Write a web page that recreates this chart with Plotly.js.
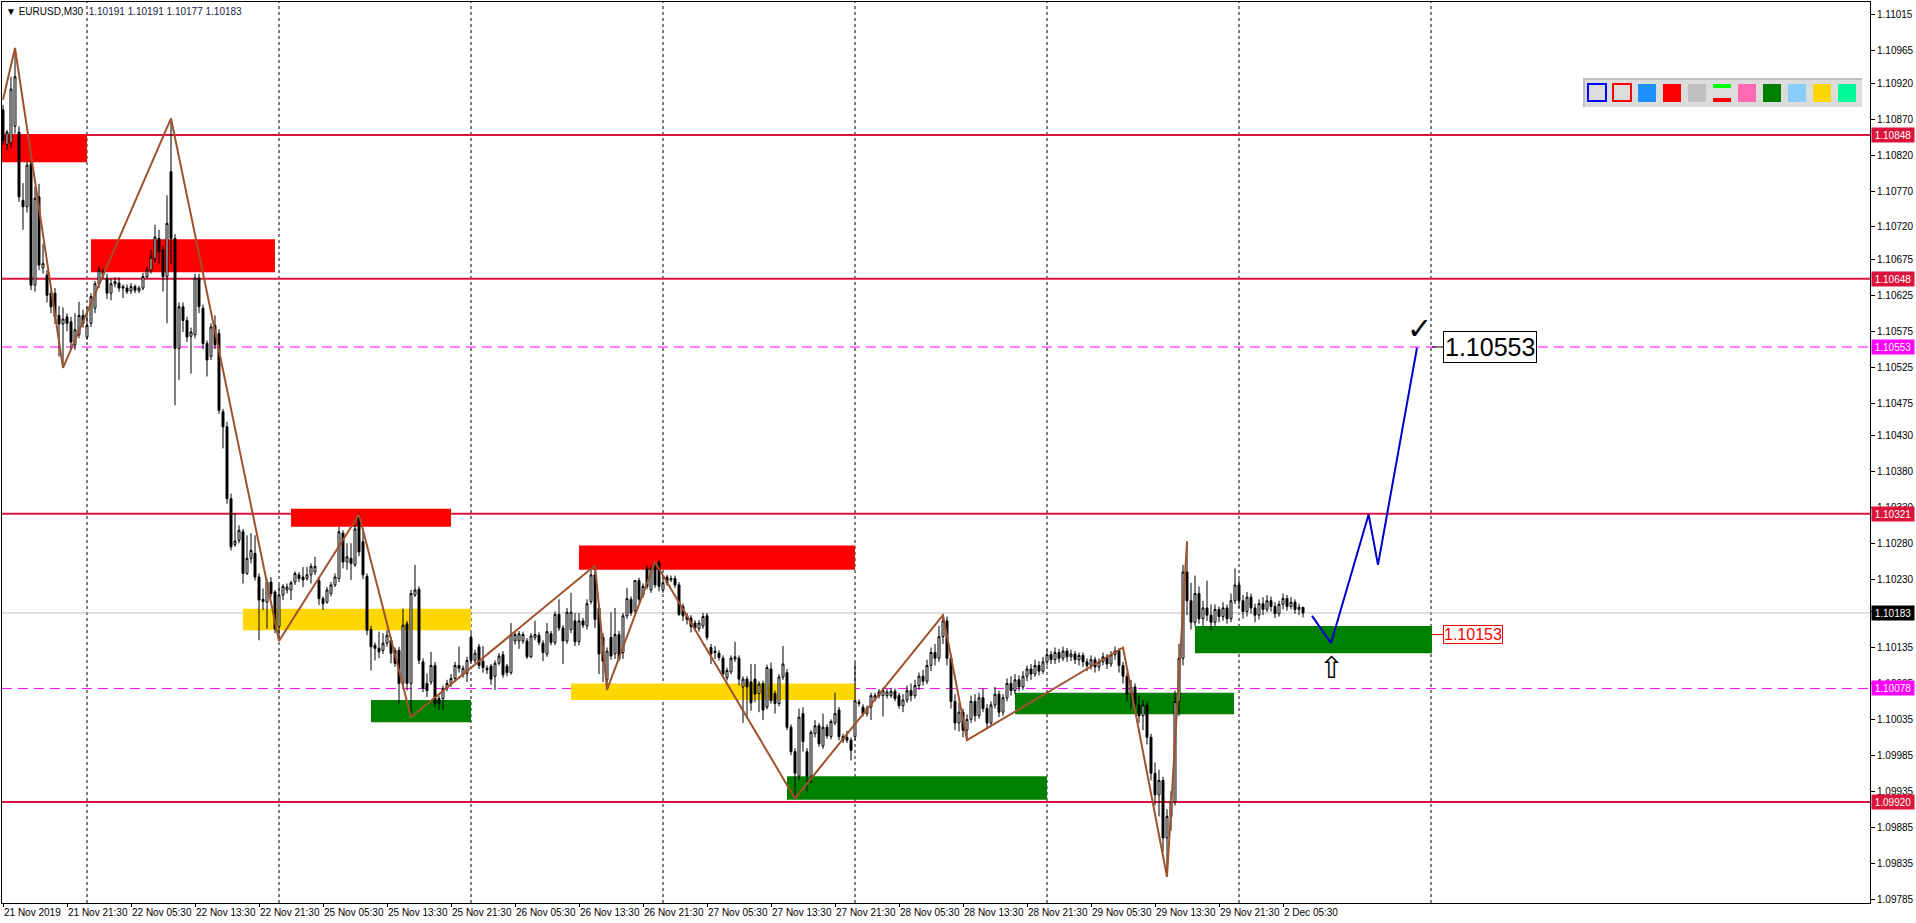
<!DOCTYPE html>
<html><head><meta charset="utf-8">
<script src="https://cdn.plot.ly/plotly-3.0.1.min.js"></script>
<style>html,body{margin:0;padding:0;background:#fff;overflow:hidden}#chart{width:1916px;height:923px}</style>
</head><body><div id="chart"></div>
<script>
// ---------- DATA ----------
const barOpen=[
1.10883,1.10835,1.10837,1.10860,1.10852,1.10757,1.10748,1.10808,1.10639,1.10762,
1.10663,1.10653,1.10628,1.10628,1.10597,1.10585,1.10595,1.10588,1.10556,1.10570,
1.10597,1.10567,1.10586,1.10607,1.10641,1.10653,1.10649,1.10628,1.10641,1.10642,
1.10637,1.10635,1.10631,1.10637,1.10631,1.10635,1.10651,1.10660,1.10676,1.10704,
1.10688,1.10651,1.10797,1.10704,1.10551,1.10609,1.10590,1.10568,1.10570,1.10649,
1.10607,1.10558,1.10540,1.10583,1.10572,1.10463,1.10442,1.10342,1.10278,1.10284,
1.10296,1.10238,1.10259,1.10266,1.10233,1.10202,1.10198,1.10226,1.10212,1.10164,
1.10208,1.10215,1.10215,1.10226,1.10236,1.10233,1.10231,1.10236,1.10240,1.10228,
1.10203,1.10198,1.10210,1.10222,1.10231,1.10294,1.10254,1.10259,1.10250,1.10319,
1.10282,1.10234,1.10160,1.10138,1.10134,1.10131,1.10141,1.10145,1.10131,1.10131,
1.10085,1.10168,1.10085,1.10208,1.10216,1.10115,1.10085,1.10087,1.10110,1.10064,
1.10064,1.10078,1.10085,1.10092,1.10110,1.10097,1.10099,1.10149,1.10117,1.10136,
1.10116,1.10106,1.10109,1.10095,1.10113,1.10125,1.10109,1.10100,1.10144,1.10144,
1.10144,1.10144,1.10122,1.10149,1.10152,1.10141,1.10126,1.10154,1.10142,1.10181,
1.10162,1.10144,1.10160,1.10172,1.10143,1.10172,1.10165,1.10199,1.10236,1.10190,
1.10149,1.10090,1.10149,1.10126,1.10153,1.10128,1.10179,1.10202,1.10186,1.10228,
1.10208,1.10245,1.10215,1.10253,1.10253,1.10215,1.10233,1.10229,1.10231,1.10222,
1.10192,1.10179,1.10176,1.10169,1.10161,1.10165,1.10179,1.10135,1.10130,1.10127,
1.10120,1.10093,1.10101,1.10119,1.10120,1.10080,1.10091,1.10087,1.10091,1.10071,
1.10085,1.10052,1.10105,1.10071,1.10057,1.10094,1.10100,1.10024,1.09990,1.09956,
1.10043,1.09990,1.09956,1.10015,1.10026,1.09998,1.10024,1.10011,1.10030,1.10048,
1.10011,1.10010,1.10006,1.10011,1.10059,1.10052,1.10043,1.10052,1.10064,1.10073,
1.10068,1.10068,1.10068,1.10074,1.10068,
1.10054,1.10062,1.10075,1.10068,1.10082,1.10095,1.10088,1.10110,1.10128,1.10120,
1.10150,1.10172,1.10120,1.10060,1.10030,1.10045,1.10020,1.10035,1.10060,1.10040,
1.10065,1.10050,1.10030,1.10055,1.10070,1.10045,1.10065,1.10085,1.10075,1.10090,
1.10080,1.10095,1.10105,1.10098,1.10110,1.10102,1.10115,1.10125,1.10118,1.10128,
1.10120,1.10130,1.10122,1.10126,1.10118,1.10124,1.10115,1.10110,1.10118,1.10108,
1.10115,1.10122,1.10112,1.10125,1.10130,1.10110,1.10095,1.10070,1.10080,1.10055,
1.10040,1.10055,1.10010,1.09960,1.09930,1.09950,1.09870,1.09900,1.09920,1.10060,
1.10120,1.10240,1.10200,1.10170,1.10210,1.10175,1.10190,1.10180,1.10170,1.10188,
1.10178,1.10190,1.10175,1.10200,1.10222,1.10200,1.10185,1.10205,1.10190,1.10180,
1.10196,1.10188,1.10200,1.10192,1.10182,1.10195,1.10203,1.10192,1.10198,1.10188,
1.10191];
const barHigh=[
1.10890,1.10855,1.10929,1.10969,1.10860,1.10781,1.10811,1.10812,1.10776,1.10780,
1.10697,1.10660,1.10632,1.10635,1.10610,1.10608,1.10600,1.10595,1.10600,1.10616,
1.10605,1.10609,1.10628,1.10645,1.10665,1.10662,1.10655,1.10648,1.10650,1.10650,
1.10640,1.10640,1.10642,1.10640,1.10638,1.10656,1.10665,1.10688,1.10723,1.10716,
1.10694,1.10764,1.10871,1.10710,1.10615,1.10615,1.10595,1.10580,1.10655,1.10655,
1.10612,1.10562,1.10586,1.10597,1.10578,1.10467,1.10449,1.10349,1.10322,1.10305,
1.10300,1.10291,1.10294,1.10291,1.10238,1.10217,1.10230,1.10233,1.10215,1.10222,
1.10223,1.10224,1.10228,1.10241,1.10240,1.10247,1.10247,1.10252,1.10261,1.10233,
1.10206,1.10219,1.10226,1.10238,1.10303,1.10298,1.10280,1.10280,1.10306,1.10322,
1.10300,1.10238,1.10165,1.10142,1.10157,1.10155,1.10159,1.10150,1.10135,1.10136,
1.10189,1.10172,1.10215,1.10250,1.10220,1.10120,1.10099,1.10129,1.10115,1.10068,
1.10082,1.10090,1.10098,1.10115,1.10136,1.10110,1.10122,1.10155,1.10132,1.10140,
1.10137,1.10110,1.10112,1.10117,1.10127,1.10130,1.10112,1.10169,1.10158,1.10158,
1.10157,1.10148,1.10155,1.10172,1.10156,1.10145,1.10169,1.10158,1.10185,1.10202,
1.10166,1.10190,1.10211,1.10183,1.10183,1.10176,1.10202,1.10245,1.10249,1.10195,
1.10155,1.10135,1.10184,1.10190,1.10158,1.10183,1.10218,1.10206,1.10229,1.10232,
1.10224,1.10250,1.10249,1.10254,1.10257,1.10236,1.10236,1.10235,1.10235,1.10226,
1.10196,1.10183,1.10180,1.10173,1.10173,1.10183,1.10183,1.10140,1.10137,1.10131,
1.10124,1.10107,1.10124,1.10143,1.10124,1.10095,1.10095,1.10112,1.10112,1.10088,
1.10089,1.10111,1.10114,1.10075,1.10098,1.10137,1.10105,1.10028,1.09995,1.10050,
1.10052,1.09995,1.10020,1.10034,1.10030,1.10043,1.10028,1.10035,1.10072,1.10052,
1.10015,1.10019,1.10010,1.10114,1.10063,1.10056,1.10054,1.10072,1.10072,1.10077,
1.10079,1.10077,1.10078,1.10078,1.10072,
1.10070,1.10082,1.10085,1.10090,1.10100,1.10104,1.10118,1.10135,1.10140,1.10165,
1.10182,1.10178,1.10126,1.10070,1.10058,1.10050,1.10042,1.10068,1.10070,1.10072,
1.10078,1.10056,1.10060,1.10080,1.10075,1.10070,1.10092,1.10095,1.10098,1.10096,
1.10102,1.10110,1.10112,1.10118,1.10116,1.10122,1.10132,1.10130,1.10135,1.10133,
1.10136,1.10134,1.10132,1.10130,1.10128,1.10128,1.10120,1.10124,1.10122,1.10120,
1.10128,1.10126,1.10130,1.10136,1.10134,1.10115,1.10100,1.10090,1.10085,1.10068,
1.10062,1.10060,1.10015,1.09975,1.09965,1.09955,1.09910,1.09935,1.10075,1.10140,
1.10250,1.10283,1.10225,1.10235,1.10220,1.10200,1.10228,1.10195,1.10195,1.10192,
1.10198,1.10195,1.10210,1.10245,1.10230,1.10208,1.10212,1.10210,1.10196,1.10202,
1.10205,1.10208,1.10206,1.10198,1.10200,1.10210,1.10208,1.10205,1.10202,1.10196,
1.10191];
const barLow=[
1.10834,1.10827,1.10830,1.10850,1.10755,1.10716,1.10740,1.10632,1.10630,1.10660,
1.10655,1.10615,1.10600,1.10585,1.10540,1.10524,1.10575,1.10550,1.10549,1.10565,
1.10580,1.10563,1.10581,1.10600,1.10635,1.10648,1.10620,1.10618,1.10636,1.10630,
1.10621,1.10627,1.10627,1.10628,1.10628,1.10632,1.10648,1.10655,1.10670,1.10669,
1.10630,1.10586,1.10669,1.10472,1.10507,1.10574,1.10560,1.10516,1.10565,1.10600,
1.10550,1.10512,1.10535,1.10550,1.10460,1.10412,1.10335,1.10270,1.10275,1.10280,
1.10224,1.10236,1.10252,1.10228,1.10145,1.10187,1.10161,1.10205,1.10155,1.10144,
1.10201,1.10210,1.10201,1.10222,1.10226,1.10219,1.10228,1.10224,1.10236,1.10194,
1.10187,1.10196,1.10206,1.10219,1.10226,1.10245,1.10243,1.10229,1.10247,1.10262,
1.10230,1.10152,1.10103,1.10117,1.10120,1.10126,1.10136,1.10113,1.10108,1.10057,
1.10080,1.10075,1.10038,1.10205,1.10112,1.10073,1.10066,1.10083,1.10052,1.10048,
1.10048,1.10074,1.10080,1.10088,1.10100,1.10093,1.10087,1.10112,1.10113,1.10105,
1.10100,1.10098,1.10083,1.10076,1.10110,1.10093,1.10095,1.10097,1.10139,1.10133,
1.10140,1.10119,1.10120,1.10145,1.10138,1.10116,1.10122,1.10138,1.10138,1.10158,
1.10112,1.10140,1.10155,1.10137,1.10138,1.10162,1.10160,1.10195,1.10162,1.10098,
1.10087,1.10077,1.10118,1.10119,1.10116,1.10119,1.10175,1.10179,1.10182,1.10198,
1.10204,1.10216,1.10211,1.10218,1.10213,1.10211,1.10221,1.10226,1.10218,1.10179,
1.10172,1.10167,1.10156,1.10158,1.10157,1.10161,1.10145,1.10112,1.10119,1.10117,
1.10096,1.10089,1.10098,1.10115,1.10082,1.10030,1.10039,1.10047,1.10059,1.10045,
1.10034,1.10049,1.10057,1.10043,1.10053,1.10090,1.10020,1.09985,1.09925,1.09950,
1.09990,1.09935,1.09946,1.10010,1.09997,1.09994,1.10008,1.10007,1.10027,1.10006,
1.10002,1.10002,1.09978,1.10006,1.10053,1.10039,1.10039,1.10034,1.10060,1.10064,
1.10039,1.10064,1.10065,1.10060,1.10050,
1.10045,1.10058,1.10060,1.10064,1.10076,1.10082,1.10084,1.10102,1.10110,1.10115,
1.10140,1.10110,1.10050,1.10020,1.10018,1.10010,1.10006,1.10030,1.10032,1.10036,
1.10045,1.10022,1.10025,1.10050,1.10038,1.10040,1.10060,1.10068,1.10070,1.10074,
1.10076,1.10088,1.10090,1.10094,1.10096,1.10098,1.10110,1.10112,1.10112,1.10114,
1.10116,1.10115,1.10116,1.10112,1.10110,1.10108,1.10102,1.10104,1.10100,1.10102,
1.10110,1.10105,1.10108,1.10118,1.10100,1.10085,1.10060,1.10050,1.10045,1.10030,
1.10020,1.10000,1.09950,1.09915,1.09900,1.09850,1.09816,1.09880,1.09915,1.10040,
1.10110,1.10180,1.10160,1.10165,1.10168,1.10165,1.10172,1.10160,1.10165,1.10170,
1.10172,1.10168,1.10170,1.10195,1.10190,1.10175,1.10178,1.10182,1.10170,1.10174,
1.10180,1.10184,1.10185,1.10176,1.10178,1.10188,1.10186,1.10188,1.10182,1.10180,
1.10177];
const barClose=[
1.10840,1.10852,1.10912,1.10929,1.10762,1.10748,1.10806,1.10639,1.10760,1.10667,
1.10669,1.10625,1.10609,1.10595,1.10585,1.10592,1.10586,1.10560,1.10577,1.10597,
1.10586,1.10583,1.10623,1.10641,1.10660,1.10658,1.10628,1.10641,1.10644,1.10635,
1.10635,1.10630,1.10637,1.10632,1.10635,1.10651,1.10660,1.10678,1.10706,1.10686,
1.10651,1.10725,1.10704,1.10551,1.10609,1.10590,1.10567,1.10574,1.10649,1.10609,
1.10558,1.10535,1.10581,1.10556,1.10465,1.10442,1.10342,1.10275,1.10283,1.10298,
1.10238,1.10259,1.10270,1.10233,1.10201,1.10199,1.10226,1.10210,1.10161,1.10208,
1.10220,1.10219,1.10225,1.10238,1.10231,1.10229,1.10236,1.10248,1.10248,1.10203,
1.10196,1.10215,1.10222,1.10233,1.10296,1.10254,1.10261,1.10252,1.10300,1.10268,
1.10236,1.10159,1.10136,1.10134,1.10129,1.10141,1.10152,1.10127,1.10113,1.10085,
1.10166,1.10085,1.10210,1.10215,1.10117,1.10078,1.10075,1.10110,1.10057,1.10057,
1.10078,1.10085,1.10092,1.10110,1.10106,1.10106,1.10117,1.10117,1.10127,1.10110,
1.10107,1.10104,1.10091,1.10113,1.10123,1.10097,1.10100,1.10153,1.10153,1.10154,
1.10153,1.10122,1.10151,1.10153,1.10142,1.10128,1.10157,1.10142,1.10181,1.10162,
1.10144,1.10184,1.10184,1.10143,1.10172,1.10166,1.10196,1.10236,1.10174,1.10126,
1.10116,1.10130,1.10123,1.10153,1.10119,1.10179,1.10203,1.10183,1.10228,1.10202,
1.10220,1.10220,1.10245,1.10222,1.10220,1.10225,1.10225,1.10231,1.10222,1.10181,
1.10179,1.10174,1.10164,1.10162,1.10169,1.10178,1.10149,1.10126,1.10128,1.10121,
1.10098,1.10103,1.10120,1.10122,1.10091,1.10091,1.10080,1.10058,1.10070,1.10084,
1.10048,1.10107,1.10061,1.10057,1.10094,1.10112,1.10024,1.09990,1.09960,1.10038,
1.10004,1.09956,1.10017,1.10026,1.10001,1.10024,1.10012,1.10032,1.10043,1.10011,
1.10006,1.10006,1.09992,1.10061,1.10057,1.10043,1.10050,1.10068,1.10068,1.10068,
1.10075,1.10073,1.10074,1.10064,1.10054,
1.10062,1.10075,1.10068,1.10082,1.10095,1.10088,1.10110,1.10128,1.10120,1.10150,
1.10172,1.10120,1.10060,1.10030,1.10045,1.10020,1.10035,1.10060,1.10040,1.10065,
1.10050,1.10030,1.10055,1.10070,1.10045,1.10065,1.10085,1.10075,1.10090,1.10080,
1.10095,1.10105,1.10098,1.10110,1.10102,1.10115,1.10125,1.10118,1.10128,1.10120,
1.10130,1.10122,1.10126,1.10118,1.10124,1.10115,1.10110,1.10118,1.10108,1.10115,
1.10122,1.10112,1.10125,1.10130,1.10110,1.10095,1.10070,1.10080,1.10055,1.10040,
1.10055,1.10010,1.09960,1.09930,1.09950,1.09870,1.09900,1.09920,1.10060,1.10120,
1.10240,1.10200,1.10170,1.10210,1.10175,1.10190,1.10180,1.10170,1.10188,1.10178,
1.10190,1.10175,1.10200,1.10222,1.10200,1.10185,1.10205,1.10190,1.10180,1.10196,
1.10188,1.10200,1.10192,1.10182,1.10195,1.10203,1.10192,1.10198,1.10188,1.10191,
1.10183];

const timeLabels=['21 Nov 2019','21 Nov 21:30','22 Nov 05:30','22 Nov 13:30','22 Nov 21:30','25 Nov 05:30','25 Nov 13:30','25 Nov 21:30','26 Nov 05:30','26 Nov 13:30','26 Nov 21:30','27 Nov 05:30','27 Nov 13:30','27 Nov 21:30','28 Nov 05:30','28 Nov 13:30','28 Nov 21:30','29 Nov 05:30','29 Nov 13:30','29 Nov 21:30','2 Dec 05:30'];
const timeLabelBars=[0,16,32,48,64,80,96,112,128,144,160,176,192,208,224,240,256,272,288,304,320];
const dayStartBars=[21,69,117,165,213,261,309,357];

const priceTicks=[1.11015,1.10965,1.10920,1.10870,1.10820,1.10770,1.10720,1.10675,1.10625,1.10575,1.10525,1.10475,1.10430,1.10380,1.10330,1.10280,1.10230,1.10185,1.10135,1.10085,1.10035,1.09985,1.09935,1.09885,1.09835,1.09785];

const zigzagBars=[0,3,15,42,69,89,102,148,151,163,198,235,241,280,291,296];
const zigzagPrices=[1.10897,1.10969,1.10524,1.10871,1.10144,1.10320,1.10038,1.10249,1.10076,1.10254,1.09925,1.10180,1.10006,1.10135,1.09816,1.10282];

const projectionBars=[327.25,332,341.4,343.75,353.5];
const projectionPrices=[1.10179,1.10141,1.10320,1.10250,1.10552];

const zoneStart=[-0.5,22,72,144,60,142,92,196,253,298];
const zoneEnd=[21,68,112,213,117,213.25,117,261,307.75,357.25];
const zoneLow=[1.10810,1.10657,1.10303,1.10243,1.10159,1.10062,1.10031,1.09923,1.10042,1.10127];
const zoneHigh=[1.10849,1.10703,1.10328,1.10277,1.10189,1.10085,1.10062,1.09956,1.10072,1.10165];
const zoneColor=['#ff0000','#ff0000','#ff0000','#ff0000','#ffd700','#ffd700','#008000','#008000','#008000','#008000'];

const solidLevels=[1.10848,1.10648,1.10321,1.09920];
const dashedLevels=[1.10553,1.10078];
const bidPrice=1.10183;
const targetPrice=1.10553;
const entryPrice=1.10153;

const axisBoxPrices=[1.10848,1.10648,1.10553,1.10321,1.10183,1.10078,1.09920];
const axisBoxColors=['#dc143c','#dc143c','#ff00ff','#dc143c','#000000','#ff00ff','#dc143c'];

const paletteColors=['#1e90ff','#ff0000','#c0c0c0','#ff69b4','#008000','#87cefa','#ffd700','#00fa9a'];

// ---------- BUILD ----------
const barIndex=barOpen.map((_,i)=>i);
const W=1916,H=923,L=2,R=46,T=2,B=20;
const pX=x=>(x-L)/(W-L-R);
const pY=y=>(H-B-y)/(H-T-B);

const traces=[
 {type:'candlestick',x:barIndex,open:barOpen,high:barHigh,low:barLow,close:barClose,
  increasing:{line:{color:'#000',width:1},fillcolor:'#ffffff'},
  decreasing:{line:{color:'#000',width:1},fillcolor:'#000000'},
  whiskerwidth:0,hoverinfo:'skip',showlegend:false},
 {type:'scatter',mode:'lines',x:zigzagBars,y:zigzagPrices,line:{color:'#a0522d',width:2},hoverinfo:'skip',showlegend:false},
 {type:'scatter',mode:'lines',x:projectionBars,y:projectionPrices,line:{color:'#0000cd',width:2},hoverinfo:'skip',showlegend:false}
];

const shapes=[];
dayStartBars.forEach(d=>shapes.push({type:'line',layer:'below',xref:'x',yref:'paper',x0:d,x1:d,y0:0,y1:1,line:{color:'#000',width:1,dash:'3px,3px'}}));
zoneStart.forEach((s,k)=>shapes.push({type:'rect',layer:'below',xref:'x',yref:'y',x0:s,x1:zoneEnd[k],y0:zoneLow[k],y1:zoneHigh[k],fillcolor:zoneColor[k],line:{width:0}}));
shapes.push({type:'line',layer:'below',xref:'paper',yref:'y',x0:0,x1:1,y0:bidPrice,y1:bidPrice,line:{color:'#c0c0c0',width:1}});
solidLevels.forEach(p=>shapes.push({type:'line',layer:'below',xref:'paper',yref:'y',x0:0,x1:1,y0:p,y1:p,line:{color:'#dc143c',width:2}}));
dashedLevels.forEach(p=>shapes.push({type:'line',layer:'below',xref:'paper',yref:'y',x0:0,x1:1,y0:p,y1:p,line:{color:'#ff00ff',width:1,dash:'10px,6px'}}));
shapes.push({type:'line',xref:'x',yref:'y',x0:357.25,x1:360,y0:targetPrice,y1:targetPrice,line:{color:'#000',width:1}});
shapes.push({type:'line',xref:'x',yref:'y',x0:357.25,x1:360,y0:entryPrice,y1:entryPrice,line:{color:'#ff0000',width:1}});
// palette panel
shapes.push({type:'rect',xref:'paper',yref:'paper',x0:pX(1583),x1:pX(1862),y0:pY(107),y1:pY(78),fillcolor:'#dcdcdc',line:{width:0}});
shapes.push({type:'line',xref:'paper',yref:'paper',x0:pX(1583),x1:pX(1862),y0:pY(79),y1:pY(79),line:{color:'#bdbdbd',width:2}});
shapes.push({type:'line',xref:'paper',yref:'paper',x0:pX(1584),x1:pX(1584),y0:pY(107),y1:pY(79),line:{color:'#bdbdbd',width:2}});
shapes.push({type:'rect',xref:'paper',yref:'paper',x0:pX(1588),x1:pX(1606),y0:pY(101),y1:pY(84),fillcolor:'rgba(0,0,0,0)',line:{color:'#0000ff',width:2}});
shapes.push({type:'rect',xref:'paper',yref:'paper',x0:pX(1613),x1:pX(1631),y0:pY(101),y1:pY(84),fillcolor:'rgba(0,0,0,0)',line:{color:'#ff0000',width:2}});
const slotX=[1638,1663,1688,1713,1738,1763,1788,1813,1838];
const slotFill=[paletteColors[0],paletteColors[1],paletteColors[2],null,paletteColors[3],paletteColors[4],paletteColors[5],paletteColors[6],paletteColors[7]];
slotX.forEach((x,k)=>{
  if(slotFill[k]){shapes.push({type:'rect',xref:'paper',yref:'paper',x0:pX(x),x1:pX(x+18),y0:pY(102),y1:pY(84),fillcolor:slotFill[k],line:{width:0}});}
  else{
    shapes.push({type:'rect',xref:'paper',yref:'paper',x0:pX(x),x1:pX(x+18),y0:pY(88),y1:pY(84),fillcolor:'#00ff00',line:{width:0}});
    shapes.push({type:'rect',xref:'paper',yref:'paper',x0:pX(x),x1:pX(x+18),y0:pY(102),y1:pY(98),fillcolor:'#ff0000',line:{width:0}});
  }
});

const annotations=[];
axisBoxPrices.forEach((p,k)=>annotations.push({xref:'paper',yref:'y',x:1,y:p,xanchor:'left',yanchor:'middle',xshift:1,
  text:p.toFixed(5),showarrow:false,bgcolor:axisBoxColors[k],font:{family:'Liberation Sans, Arial, sans-serif',size:10,color:'#fff'},
  width:40,height:12,borderpad:1}));
annotations.push({xref:'x',yref:'y',x:360,y:targetPrice,xanchor:'left',yanchor:'middle',text:targetPrice.toFixed(5),showarrow:false,
  bgcolor:'#fff',bordercolor:'#000',borderwidth:1,borderpad:1,font:{family:'Liberation Sans, Arial, sans-serif',size:25,color:'#000'}});
annotations.push({xref:'x',yref:'y',x:360,y:entryPrice,xanchor:'left',yanchor:'middle',text:entryPrice.toFixed(5),showarrow:false,
  bgcolor:'#fff',bordercolor:'#ff0000',borderwidth:1,borderpad:0,font:{family:'Liberation Sans, Arial, sans-serif',size:16,color:'#ff0000'}});
annotations.push({xref:'x',yref:'y',x:354,y:1.10579,xanchor:'center',yanchor:'middle',text:'✓',showarrow:false,font:{family:'DejaVu Sans',size:30,color:'#000'}});
annotations.push({xref:'x',yref:'y',x:332,y:1.10107,xanchor:'center',yanchor:'middle',text:'⇧',showarrow:false,font:{family:'DejaVu Sans',size:30,color:'#000'}});

const layout={
 width:W,height:H,margin:{l:L,r:R,t:T,b:B,pad:0},
 paper_bgcolor:'#ffffff',plot_bgcolor:'#ffffff',showlegend:false,
 title:{text:'▼ EURUSD,M30  <span style="color:#1a1a4a">1.10191 1.10191 1.10177 1.10183</span>',xref:'container',yref:'container',x:6/W,xanchor:'left',y:1-11/H,yanchor:'middle',
   font:{family:'Liberation Sans, Arial, sans-serif',size:10,color:'#000'}},
 xaxis:{range:[-0.25,466.75],tickmode:'array',tickvals:timeLabelBars,ticktext:timeLabels,ticklabelposition:'outside right',tickangle:0,
   ticks:'outside',ticklen:3,tickcolor:'#000',showgrid:false,zeroline:false,showline:true,mirror:true,linecolor:'#000',linewidth:1,
   tickfont:{family:'Liberation Sans, Arial, sans-serif',size:10,color:'#000'},rangeslider:{visible:false},fixedrange:true},
 yaxis:{range:[1.097795,1.11033],side:'right',tickmode:'array',tickvals:priceTicks,ticktext:priceTicks.map(v=>v.toFixed(5)),
   ticks:'outside',ticklen:4,tickcolor:'#000',showgrid:false,zeroline:false,showline:true,mirror:true,linecolor:'#000',linewidth:1,
   tickfont:{family:'Liberation Sans, Arial, sans-serif',size:10,color:'#000'},fixedrange:true},
 shapes:shapes,annotations:annotations
};
Plotly.newPlot('chart',traces,layout,{staticPlot:true,displayModeBar:false});
</script></body></html>
